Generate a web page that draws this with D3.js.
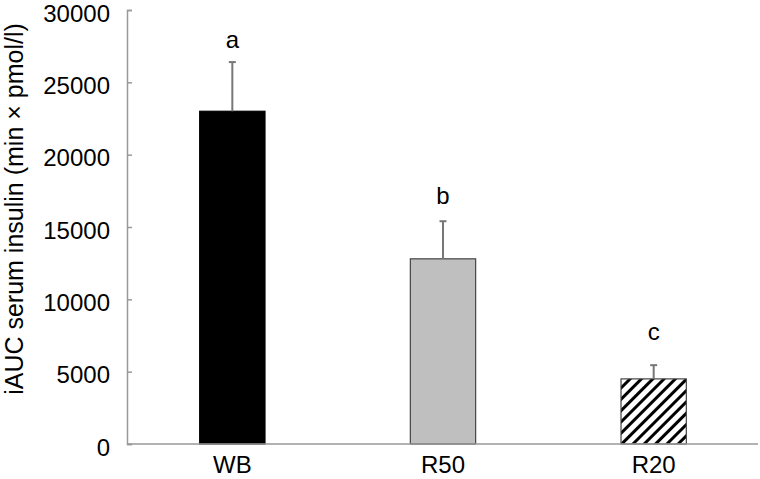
<!DOCTYPE html>
<html>
<head>
<meta charset="utf-8">
<script src="https://cdn.jsdelivr.net/npm/d3@7"></script>
<style>
  body { margin: 0; background: #fff; }
  text { font-family: "Liberation Sans", Arial, Helvetica, sans-serif; fill: #000; }
</style>
</head>
<body>
<div id="chart"></div>
<script>
var w = 760;
var h = 479;

// data
var groups = ["WB", "R50", "R20"];
var means = [23000, 12800, 4500];
var errors = [3400, 2600, 950];
var letters = ["a", "b", "c"];
var letterAt = [27400, 16600, 7200];
var yTicks = [0, 5000, 10000, 15000, 20000, 25000, 30000];

var svg = d3.select("#chart").append("svg")
            .attr("width", w)
            .attr("height", h);

var defs = svg.append("defs");
var hatch = defs.append("pattern")
                .attr("id", "hatch")
                .attr("patternUnits", "userSpaceOnUse")
                .attr("width", 8)
                .attr("height", 8)
                .attr("patternTransform", "rotate(45)");
hatch.append("rect").attr("width", 8).attr("height", 8).attr("fill", "#fff");
hatch.append("rect").attr("x", 0).attr("width", 3).attr("height", 8).attr("fill", "#000");

var x = d3.scaleBand()
          .domain(groups)
          .range([127, 759])
          .paddingInner(0.69)
          .paddingOuter(0.345);

var y = d3.scaleLinear()
          .domain([0, 30000])
          .range([444, 10]);

var fills = ["#000", "#bfbfbf", "url(#hatch)"];
var strokes = ["#000", "#444", "#444"];

// y axis
var yAxis = d3.axisRight(y).tickValues(yTicks).tickSize(5).tickFormat("");
var ya = svg.append("g").attr("transform", "translate(127,0)").call(yAxis);
ya.select(".domain").attr("stroke", "#999").attr("stroke-width", 1.5);
ya.selectAll(".tick line").attr("stroke", "#999").attr("stroke-width", 1.5);

svg.selectAll("text.ytick")
   .data(yTicks)
   .enter()
   .append("text")
   .attr("class", "ytick")
   .attr("x", 110)
   .attr("y", function(d) { return y(d) + 3; })
   .attr("text-anchor", "end")
   .attr("dominant-baseline", "central")
   .style("font-size", "24px")
   .text(function(d) { return d; });

// bars
var idx = d3.range(groups.length);

svg.selectAll("rect.bar")
   .data(idx)
   .enter()
   .append("rect")
   .attr("class", "bar")
   .attr("x", function(i) { return x(groups[i]); })
   .attr("y", function(i) { return y(means[i]); })
   .attr("width", x.bandwidth())
   .attr("height", function(i) { return y(0) - y(means[i]); })
   .attr("fill", function(i) { return fills[i]; })
   .attr("stroke", function(i) { return strokes[i]; })
   .attr("stroke-width", 1.2);

// error bars
svg.selectAll("line.err")
   .data(idx)
   .enter()
   .append("line")
   .attr("class", "err")
   .attr("x1", function(i) { return x(groups[i]) + x.bandwidth() / 2; })
   .attr("x2", function(i) { return x(groups[i]) + x.bandwidth() / 2; })
   .attr("y1", function(i) { return y(means[i]); })
   .attr("y2", function(i) { return y(means[i] + errors[i]); })
   .attr("stroke", "#777")
   .attr("stroke-width", 2);

svg.selectAll("line.cap")
   .data(idx)
   .enter()
   .append("line")
   .attr("class", "cap")
   .attr("x1", function(i) { return x(groups[i]) + x.bandwidth() / 2 - 3.5; })
   .attr("x2", function(i) { return x(groups[i]) + x.bandwidth() / 2 + 3.5; })
   .attr("y1", function(i) { return y(means[i] + errors[i]); })
   .attr("y2", function(i) { return y(means[i] + errors[i]); })
   .attr("stroke", "#777")
   .attr("stroke-width", 2);

// x baseline
svg.append("line")
   .attr("x1", 127).attr("x2", 758)
   .attr("y1", y(0)).attr("y2", y(0))
   .attr("stroke", "#999")
   .attr("stroke-width", 1.5);

// significance letters
svg.selectAll("text.sig")
   .data(idx)
   .enter()
   .append("text")
   .attr("class", "sig")
   .attr("x", function(i) { return x(groups[i]) + x.bandwidth() / 2; })
   .attr("y", function(i) { return y(letterAt[i]); })
   .attr("text-anchor", "middle")
   .style("font-size", "24px")
   .text(function(i) { return letters[i]; });

// category labels
svg.selectAll("text.cat")
   .data(groups)
   .enter()
   .append("text")
   .attr("class", "cat")
   .attr("x", function(d) { return x(d) + x.bandwidth() / 2; })
   .attr("y", 473)
   .attr("text-anchor", "middle")
   .style("font-size", "24px")
   .text(function(d) { return d; });

// y title
svg.append("text")
   .attr("transform", "translate(23,209) rotate(-90)")
   .attr("text-anchor", "middle")
   .style("font-size", "25px")
   .text("iAUC serum insulin (min \u00d7 pmol/l)");
</script>
</body>
</html>
